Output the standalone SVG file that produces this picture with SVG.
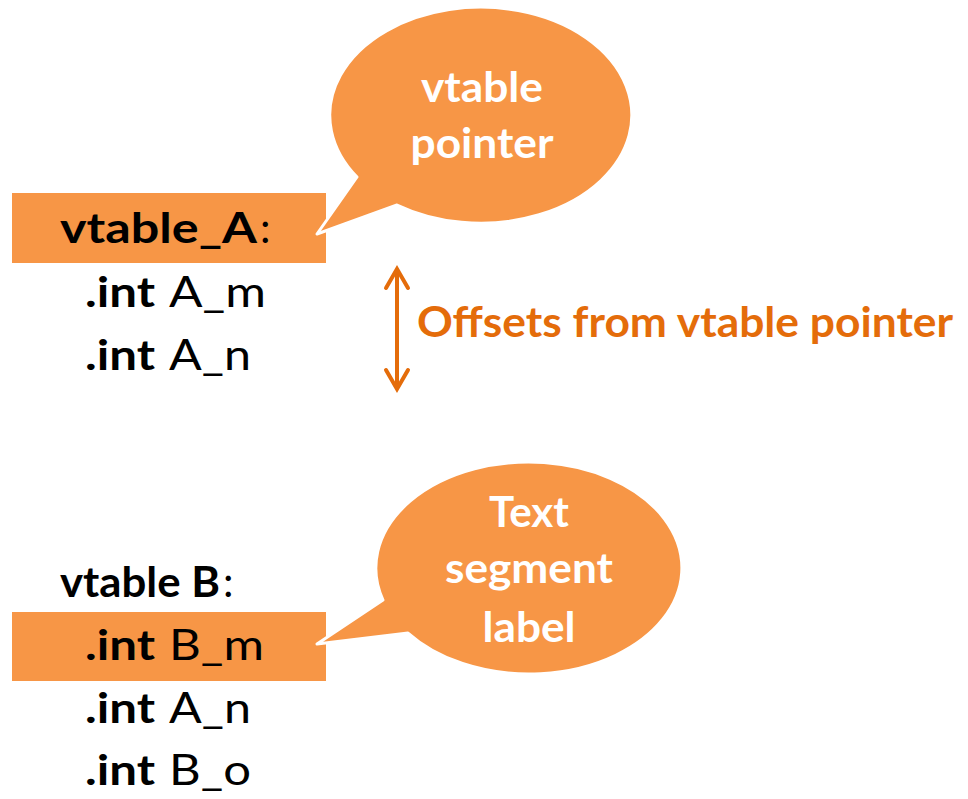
<svg xmlns="http://www.w3.org/2000/svg" width="968" height="799" viewBox="0 0 968 799">
  <style>
    text { font-family: Lato, "Open Sans", "Liberation Sans", sans-serif; font-size: 42px; }
    .b { font-weight: 700; }
    .r { font-weight: 400; }
    .ink { fill: #000000; }
    .hl { fill: #F79646; }
    .callout { fill: #F79646; stroke: #FFFFFF; stroke-width: 3; stroke-linejoin: round; }
    .ctext { fill: #FFFFFF; font-weight: 700; text-anchor: middle; }
    .note { fill: #E46C0A; font-weight: 700; }
    .dim { fill: none; stroke: #E46C0A; stroke-width: 4; stroke-linecap: round; stroke-linejoin: miter; }
  </style>
  <rect width="968" height="799" fill="#FFFFFF"/>

  <!-- vtable A listing -->
  <g id="vtable-a">
    <rect class="hl" x="12" y="193" width="314" height="70"/>
    <text class="b ink" x="60" y="243" textLength="197" lengthAdjust="spacingAndGlyphs">vtable_A</text>
    <text class="r ink" x="260" y="243">:</text>
    <text class="b ink" x="85" y="307" textLength="70" lengthAdjust="spacingAndGlyphs">.int</text>
    <text class="r ink" x="169" y="307" textLength="97" lengthAdjust="spacingAndGlyphs">A_m</text>
    <text class="b ink" x="85" y="370" textLength="70" lengthAdjust="spacingAndGlyphs">.int</text>
    <text class="r ink" x="169" y="370" textLength="82" lengthAdjust="spacingAndGlyphs">A_n</text>
  </g>

  <!-- vtable B listing -->
  <g id="vtable-b">
    <rect class="hl" x="12" y="612" width="314" height="69"/>
    <text class="b ink" x="60" y="597" textLength="160" lengthAdjust="spacingAndGlyphs">vtable B</text>
    <text class="r ink" x="223" y="597">:</text>
    <text class="b ink" x="85" y="660" textLength="70" lengthAdjust="spacingAndGlyphs">.int</text>
    <text class="r ink" x="169" y="660" textLength="95" lengthAdjust="spacingAndGlyphs">B_m</text>
    <text class="b ink" x="85" y="723" textLength="70" lengthAdjust="spacingAndGlyphs">.int</text>
    <text class="r ink" x="169" y="723" textLength="82" lengthAdjust="spacingAndGlyphs">A_n</text>
    <text class="b ink" x="85" y="785" textLength="70" lengthAdjust="spacingAndGlyphs">.int</text>
    <text class="r ink" x="169" y="785" textLength="82" lengthAdjust="spacingAndGlyphs">B_o</text>
  </g>

  <!-- callout: vtable pointer -->
  <g id="callout-vtable-pointer">
    <path class="callout" d="M357,177 A151,108 0 1 1 397,205 L317,234 Z"/>
    <text class="ctext" x="482" y="102" textLength="122" lengthAdjust="spacingAndGlyphs">vtable</text>
    <text class="ctext" x="482" y="158" textLength="143" lengthAdjust="spacingAndGlyphs">pointer</text>
  </g>

  <!-- callout: text segment label -->
  <g id="callout-text-segment">
    <path class="callout" d="M383,600 A153,106 0 1 1 408,633 L317,644 Z"/>
    <text class="ctext" x="529" y="527" textLength="80" lengthAdjust="spacingAndGlyphs">Text</text>
    <text class="ctext" x="529" y="583" textLength="168" lengthAdjust="spacingAndGlyphs">segment</text>
    <text class="ctext" x="529" y="642" textLength="93" lengthAdjust="spacingAndGlyphs">label</text>
  </g>

  <!-- offsets annotation -->
  <g id="offsets-label">
    <text class="note" x="417" y="337" textLength="536" lengthAdjust="spacingAndGlyphs">Offsets from vtable pointer</text>
  </g>

  <g id="connectors">
    <line class="dim" x1="397" y1="271" x2="397" y2="387"/>
    <polyline class="dim" points="386,288 397,269 408,288"/>
    <polyline class="dim" points="386,370 397,389 408,370"/>
  </g>
</svg>
